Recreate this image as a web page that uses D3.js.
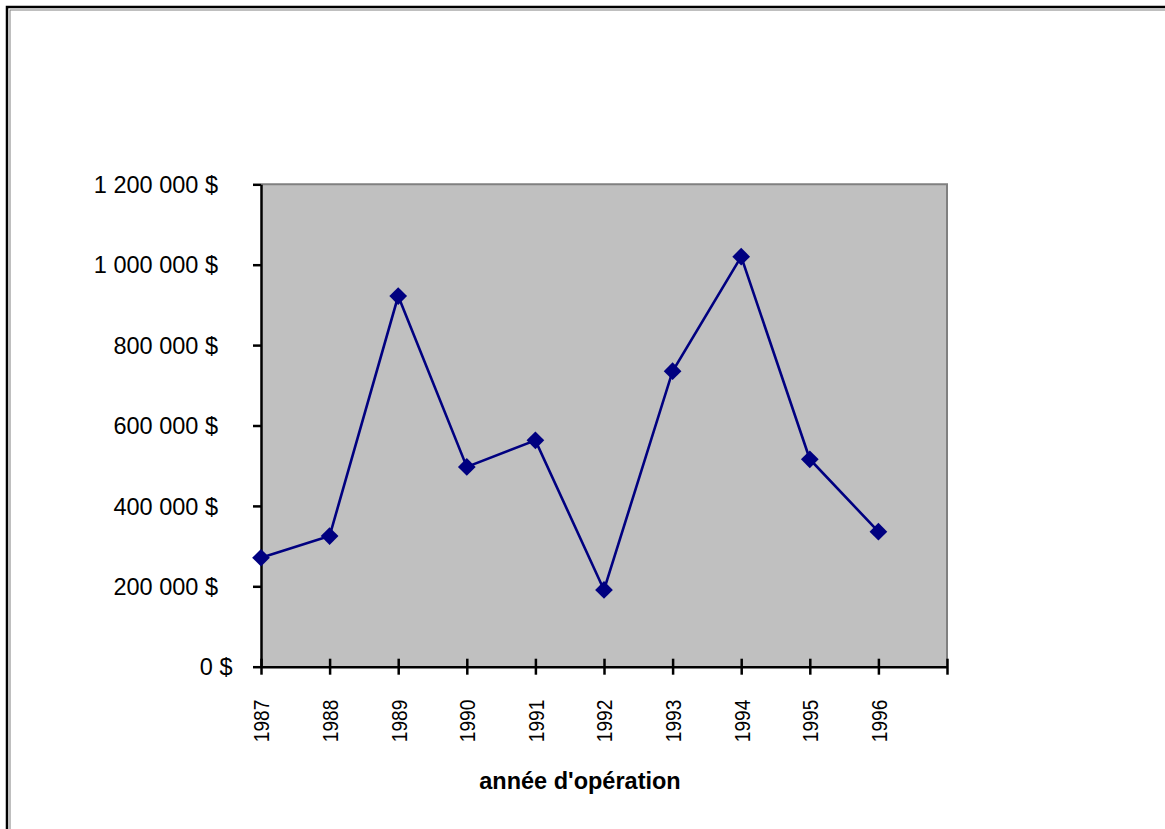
<!DOCTYPE html>
<html>
<head>
<meta charset="utf-8">
<script src="https://cdn.jsdelivr.net/npm/d3@7"></script>
<style>
  body { margin: 0; background: #fff; }
  text { font-family: Arial, "Liberation Sans", sans-serif; fill: #000; }
</style>
</head>
<body>
<script>
// chiffre annuel par année d'opération
var years = [1987, 1988, 1989, 1990, 1991, 1992, 1993, 1994, 1995, 1996];
var montants = [271000, 325000, 922000, 497000, 563000, 191000, 735000, 1020000, 516000, 336000];
var yTicks = [0, 200000, 400000, 600000, 800000, 1000000, 1200000];
var axisTitle = "année d'opération";

var W = 1165, H = 829;
var svg = d3.select("body").append("svg").attr("width", W).attr("height", H);

// cadre extérieur (déborde de la fenêtre à droite et en bas)
svg.append("rect").attr("x", 10).attr("y", 10).attr("width", 1300).attr("height", 1000)
  .attr("fill", "none").attr("stroke", "#808080").attr("stroke-width", 1);
svg.append("rect").attr("x", 7).attr("y", 7).attr("width", 1300).attr("height", 1000)
  .attr("fill", "none").attr("stroke", "#000").attr("stroke-width", 2.5);

var pLeft = 261, pRight = 947, pTop = 184.3, pBottom = 666.7;

var x = d3.scaleLinear().domain([1987, 1997]).range([pLeft, pRight]);
var y = d3.scaleLinear().domain([0, 1200000]).range([pBottom, pTop]);

var fr = d3.formatLocale({decimal: ",", thousands: "\u00a0", grouping: [3], currency: ["", " $"]});
var fmt = fr.format("$,");

// zone de traçage
svg.append("rect").attr("x", pLeft).attr("y", pTop)
  .attr("width", pRight - pLeft).attr("height", pBottom - pTop)
  .attr("fill", "#C0C0C0");
svg.append("path")
  .attr("d", "M" + pLeft + "," + pTop + "H" + pRight + "V" + pBottom)
  .attr("fill", "none").attr("stroke", "#808080").attr("stroke-width", 2);

// axe Y
var gy = svg.append("g").attr("transform", "translate(" + pLeft + ",0)")
  .call(d3.axisLeft(y).tickValues(yTicks).tickFormat(fmt).tickSizeInner(8).tickSizeOuter(0).tickPadding(0));
gy.select(".domain").attr("stroke", "#000").attr("stroke-width", 2.5);
gy.selectAll(".tick line").attr("stroke", "#000").attr("stroke-width", 2.5);
gy.selectAll(".tick text")
  .attr("font-size", 23.5)
  .attr("x", d => d === 0 ? -28.5 : -43)
  .attr("dy", "0.35em");

// axe X (étiquettes verticales, un peu compressées)
var sq = 0.85;
var gx = svg.append("g").attr("transform", "translate(0," + pBottom + ")")
  .call(d3.axisBottom(x).tickValues(d3.range(1987, 1998))
    .tickFormat(d => years.indexOf(d) >= 0 ? String(d) : "")
    .tickSizeOuter(0));
gx.select(".domain").attr("stroke", "#000").attr("stroke-width", 2.5);
gx.selectAll(".tick line").attr("y1", -8).attr("y2", 8).attr("stroke", "#000").attr("stroke-width", 2.5);
gx.selectAll(".tick text")
  .attr("font-size", 22.5)
  .attr("transform", "rotate(-90) scale(" + sq + ",1)")
  .attr("text-anchor", "end")
  .attr("x", -33 / sq)
  .attr("y", 0)
  .attr("dy", "0.35em");

// série
var pts = years.map((d, i) => [d, montants[i]]);
svg.append("path").datum(pts)
  .attr("fill", "none").attr("stroke", "#000080").attr("stroke-width", 2.6)
  .attr("d", d3.line().x(d => x(d[0])).y(d => y(d[1])));

svg.append("g").selectAll("path").data(pts).enter().append("path")
  .attr("transform", d => "translate(" + x(d[0]) + "," + y(d[1]) + ")")
  .attr("d", d3.symbol().type(d3.symbolDiamond2).size(200))
  .attr("fill", "#000080");

// titre de l'axe
svg.append("text").attr("x", 580).attr("y", 789)
  .attr("text-anchor", "middle").attr("font-size", 23.5).attr("font-weight", "bold")
  .text(axisTitle);
</script>
</body>
</html>
